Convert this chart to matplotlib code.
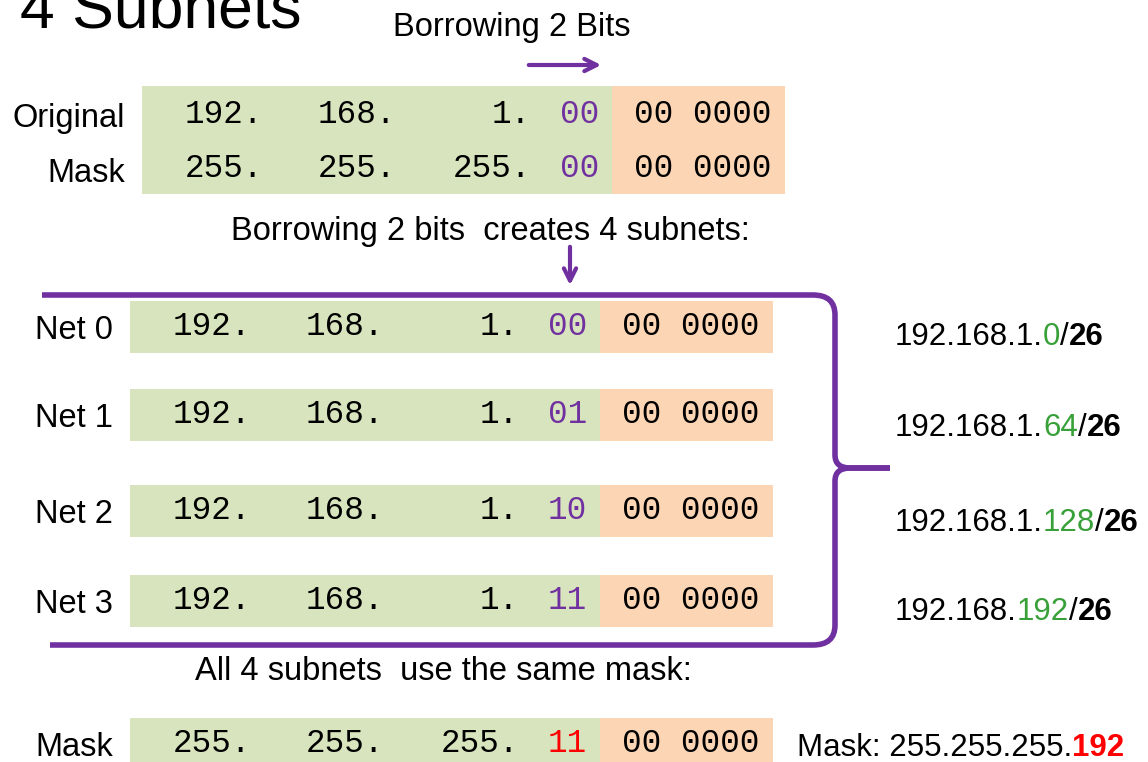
import matplotlib.pyplot as plt
from matplotlib.path import Path
from matplotlib.patches import PathPatch, Rectangle

# data
orig_octets = ['192.', '168.', '1.']
mask_octets = ['255.', '255.', '255.']
top_bits = ['00', '00']
host_bits = '00 0000'
net_labels = ['Net 0', 'Net 1', 'Net 2', 'Net 3']
net_bits = ['00', '01', '10', '11']
subnet_prefix = ['192.168.1.', '192.168.1.', '192.168.1.', '192.168.']
subnet_octet = ['0', '64', '128', '192']
prefix_len = '26'
new_mask_bits = '11'
new_mask_text = 'Mask: 255.255.255.'
new_mask_octet = '192'

purple = '#7030A0'
green_bg = '#D7E4BD'
orange_bg = '#FCD5B5'
green_txt = '#38A038'
red = '#FF0000'
sans = 'Liberation Sans'
mono = 'Liberation Mono'
FS = 23.5

fig = plt.figure(figsize=(11.48, 7.62), dpi=100)
ax = fig.add_axes([0, 0, 1, 1])
ax.set_xlim(0, 1148)
ax.set_ylim(762, 0)
ax.axis('off')


def chain(x, y, parts, family=sans, size=FS):
    # parts: (text, color, weight)
    s, c, w = parts[0]
    t = ax.text(x, y, s, color=c, weight=w, family=family, fontsize=size, va='baseline')
    for s, c, w in parts[1:]:
        t = ax.annotate(s, xy=(1, 0), xycoords=t, va='bottom', color=c, weight=w,
                        family=family, fontsize=size)
    return t


def bit_row(x0, y, octets, bits, bits_color):
    # x0 = left of green box
    ax.text(x0 + 43, y, octets[0], family=mono, fontsize=FS, va='baseline')
    ax.text(x0 + 176, y, octets[1], family=mono, fontsize=FS, va='baseline')
    ax.text(x0 + 389, y, octets[2], family=mono, fontsize=FS, va='baseline', ha='right')
    ax.text(x0 + 418, y, bits, family=mono, fontsize=FS, va='baseline', color=bits_color)
    ax.text(x0 + 492, y, host_bits, family=mono, fontsize=FS, va='baseline')


def boxes(x0, y0, h):
    ax.add_patch(Rectangle((x0, y0), 470, h, color=green_bg, lw=0))
    ax.add_patch(Rectangle((x0 + 470, y0), 173, h, color=orange_bg, lw=0))


# title and top section
ax.text(20, 27, '4 Subnets', family=sans, fontsize=45, va='baseline')
ax.text(512, 36, 'Borrowing 2 Bits', family=sans, fontsize=FS, va='baseline', ha='center')
ax.annotate('', xy=(604, 65), xytext=(526, 65),
            arrowprops=dict(arrowstyle='->', color=purple, lw=3, mutation_scale=22))

boxes(142, 86, 108)
ax.text(125, 127, 'Original', family=sans, fontsize=FS, va='baseline', ha='right')
ax.text(125, 182, 'Mask', family=sans, fontsize=FS, va='baseline', ha='right')
bit_row(142, 123, orig_octets, top_bits[0], purple)
bit_row(142, 177, mask_octets, top_bits[1], purple)

ax.text(490, 240, 'Borrowing 2 bits  creates 4 subnets:', family=sans, fontsize=FS,
        va='baseline', ha='center')
ax.annotate('', xy=(570, 288), xytext=(570, 244),
            arrowprops=dict(arrowstyle='->', color=purple, lw=3, mutation_scale=22))

# subnet rows
row_y = [327, 415, 511, 601]
label_y = [333, 424, 519, 608]
for i in range(4):
    yc = row_y[i]
    boxes(130, yc - 26, 52)
    ax.text(35, yc + 12, net_labels[i], family=sans, fontsize=FS, va='baseline')
    bit_row(130, yc + 8, orig_octets, net_bits[i], purple)
    chain(895, label_y[i] + 12, [(subnet_prefix[i], 'black', 'normal'),
                                 (subnet_octet[i], green_txt, 'normal'),
                                 ('/', 'black', 'normal'),
                                 (prefix_len, 'black', 'bold')], size=22.5)

# bracket
verts = [(42, 295), (813, 295), (835, 295), (835, 315),
         (835, 455), (835, 468), (850, 468), (890, 468)]
codes = [Path.MOVETO, Path.LINETO, Path.CURVE3, Path.CURVE3,
         Path.LINETO, Path.CURVE3, Path.CURVE3, Path.LINETO]
ax.add_patch(PathPatch(Path(verts, codes), fill=False, ec=purple, lw=4, capstyle='butt'))
verts = [(890, 468), (850, 468), (835, 468), (835, 481),
         (835, 625), (835, 645), (813, 645), (50, 645)]
ax.add_patch(PathPatch(Path(verts, codes), fill=False, ec=purple, lw=4, capstyle='butt'))

# bottom mask
ax.text(443, 680, 'All 4 subnets  use the same mask:', family=sans, fontsize=FS,
        va='baseline', ha='center')
boxes(130, 718, 60)
ax.text(35, 756, 'Mask', family=sans, fontsize=FS, va='baseline')
bit_row(130, 752, mask_octets, new_mask_bits, red)
chain(797, 756, [(new_mask_text, 'black', 'normal'), (new_mask_octet, red, 'bold')],
      size=22.5)

fig.savefig('out.png', dpi=100)
